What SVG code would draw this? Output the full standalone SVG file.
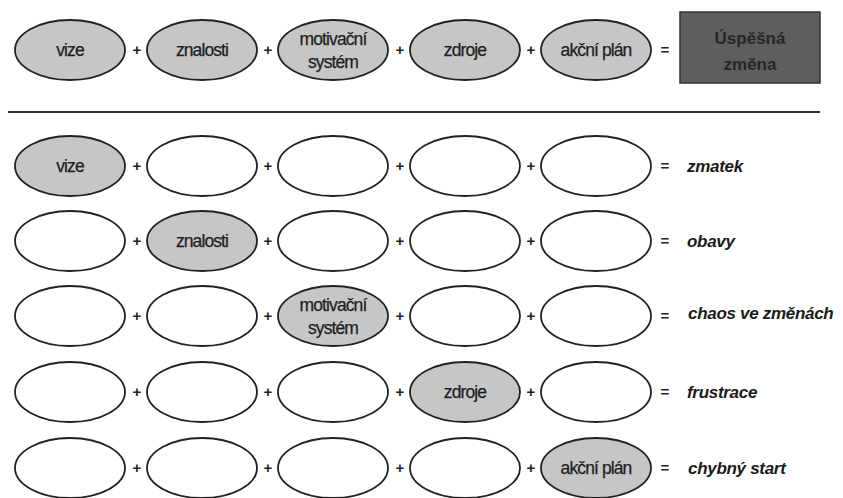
<svg xmlns="http://www.w3.org/2000/svg" width="843" height="498" viewBox="0 0 843 498">
<style>
.e{fill:#fff;stroke:#222;stroke-width:1.8}
.g{fill:#c6c6c6}
.t{font-family:"Liberation Sans",Arial,sans-serif;font-size:17.5px;fill:#1e1e1e;stroke:#1e1e1e;stroke-width:0.25;text-anchor:middle;letter-spacing:-0.9px}
.op{font-family:"Liberation Sans",Arial,sans-serif;font-size:15px;font-weight:bold;fill:#222;text-anchor:middle}
.r{font-family:"Liberation Sans",Arial,sans-serif;font-size:17px;font-weight:bold;font-style:italic;fill:#1a1a1a;letter-spacing:-0.3px}
.bt{font-family:"Liberation Sans",Arial,sans-serif;font-size:17px;font-weight:bold;fill:#262626;text-anchor:middle}
</style>
<rect width="843" height="498" fill="#fff"/>

<g id="row0">
<g id="n0-1"><ellipse class="e g" cx="70" cy="50" rx="55" ry="30"/><text class="t" x="70" y="56">vize</text></g>
<g id="n0-2"><ellipse class="e g" cx="202" cy="50" rx="55" ry="30"/><text class="t" x="202" y="56">znalosti</text></g>
<g id="n0-3"><ellipse class="e g" cx="333" cy="50" rx="55" ry="30"/><text class="t" x="333" y="45">motivační</text><text class="t" x="333" y="68">systém</text></g>
<g id="n0-4"><ellipse class="e g" cx="465" cy="50" rx="55" ry="30"/><text class="t" x="465" y="56">zdroje</text></g>
<g id="n0-5"><ellipse class="e g" cx="596" cy="50" rx="55" ry="30"/><text class="t" x="596" y="56">akční plán</text></g>
<g id="result"><rect x="680" y="12" width="140" height="71" fill="#5e5e5e" stroke="#333" stroke-width="1.5"/><text class="bt" x="750" y="44">Úspěšná</text><text class="bt" x="750" y="70">změna</text></g>
<text class="op" x="137" y="55">+</text><text class="op" x="268" y="55">+</text><text class="op" x="400" y="55">+</text><text class="op" x="531" y="55">+</text><text class="op" x="665" y="55">=</text>
</g>

<g id="connectors">
<line x1="8" y1="112" x2="820" y2="112" stroke="#333" stroke-width="2.2"/>
</g>

<g id="row1">
<g id="n1-1"><ellipse class="e g" cx="70" cy="166" rx="55" ry="30"/><text class="t" x="70" y="172">vize</text></g>
<g id="n1-2"><ellipse class="e" cx="202" cy="166" rx="55" ry="30"/></g>
<g id="n1-3"><ellipse class="e" cx="333" cy="166" rx="55" ry="30"/></g>
<g id="n1-4"><ellipse class="e" cx="465" cy="166" rx="55" ry="30"/></g>
<g id="n1-5"><ellipse class="e" cx="596" cy="166" rx="55" ry="30"/></g>
<text class="op" x="137" y="171">+</text><text class="op" x="268" y="171">+</text><text class="op" x="400" y="171">+</text><text class="op" x="531" y="171">+</text><text class="op" x="665" y="171">=</text>
<text class="r" x="687" y="172">zmatek</text>
</g>

<g id="row2">
<g id="n2-1"><ellipse class="e" cx="70" cy="241" rx="55" ry="30"/></g>
<g id="n2-2"><ellipse class="e g" cx="202" cy="241" rx="55" ry="30"/><text class="t" x="202" y="247">znalosti</text></g>
<g id="n2-3"><ellipse class="e" cx="333" cy="241" rx="55" ry="30"/></g>
<g id="n2-4"><ellipse class="e" cx="465" cy="241" rx="55" ry="30"/></g>
<g id="n2-5"><ellipse class="e" cx="596" cy="241" rx="55" ry="30"/></g>
<text class="op" x="137" y="246">+</text><text class="op" x="268" y="246">+</text><text class="op" x="400" y="246">+</text><text class="op" x="531" y="246">+</text><text class="op" x="665" y="246">=</text>
<text class="r" x="687" y="247">obavy</text>
</g>

<g id="row3">
<g id="n3-1"><ellipse class="e" cx="70" cy="316" rx="55" ry="30"/></g>
<g id="n3-2"><ellipse class="e" cx="202" cy="316" rx="55" ry="30"/></g>
<g id="n3-3"><ellipse class="e g" cx="333" cy="316" rx="55" ry="30"/><text class="t" x="333" y="311">motivační</text><text class="t" x="333" y="334">systém</text></g>
<g id="n3-4"><ellipse class="e" cx="465" cy="316" rx="55" ry="30"/></g>
<g id="n3-5"><ellipse class="e" cx="596" cy="316" rx="55" ry="30"/></g>
<text class="op" x="137" y="321">+</text><text class="op" x="268" y="321">+</text><text class="op" x="400" y="321">+</text><text class="op" x="531" y="321">+</text><text class="op" x="665" y="321">=</text>
<text class="r" x="688" y="319">chaos ve změnách</text>
</g>

<g id="row4">
<g id="n4-1"><ellipse class="e" cx="70" cy="392" rx="55" ry="30"/></g>
<g id="n4-2"><ellipse class="e" cx="202" cy="392" rx="55" ry="30"/></g>
<g id="n4-3"><ellipse class="e" cx="333" cy="392" rx="55" ry="30"/></g>
<g id="n4-4"><ellipse class="e g" cx="465" cy="392" rx="55" ry="30"/><text class="t" x="465" y="398">zdroje</text></g>
<g id="n4-5"><ellipse class="e" cx="596" cy="392" rx="55" ry="30"/></g>
<text class="op" x="137" y="397">+</text><text class="op" x="268" y="397">+</text><text class="op" x="400" y="397">+</text><text class="op" x="531" y="397">+</text><text class="op" x="665" y="397">=</text>
<text class="r" x="687" y="398">frustrace</text>
</g>

<g id="row5">
<g id="n5-1"><ellipse class="e" cx="70" cy="468" rx="55" ry="30"/></g>
<g id="n5-2"><ellipse class="e" cx="202" cy="468" rx="55" ry="30"/></g>
<g id="n5-3"><ellipse class="e" cx="333" cy="468" rx="55" ry="30"/></g>
<g id="n5-4"><ellipse class="e" cx="465" cy="468" rx="55" ry="30"/></g>
<g id="n5-5"><ellipse class="e g" cx="596" cy="468" rx="55" ry="30"/><text class="t" x="596" y="474">akční plán</text></g>
<text class="op" x="137" y="473">+</text><text class="op" x="268" y="473">+</text><text class="op" x="400" y="473">+</text><text class="op" x="531" y="473">+</text><text class="op" x="665" y="473">=</text>
<text class="r" x="688" y="474">chybný start</text>
</g>
</svg>
